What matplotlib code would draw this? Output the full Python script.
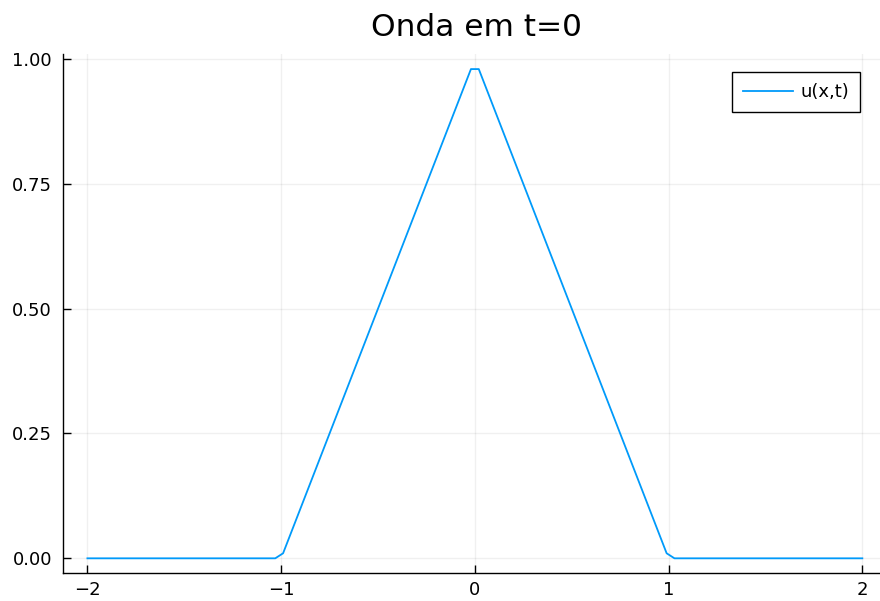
import numpy as np
import matplotlib.pyplot as plt

# vertices of the sampled triangular pulse u(x, 0)
x_pts = [-2.0, -1.0303, -0.9899, -0.0202, 0.0202, 0.9899, 1.0303, 2.0]
u_pts = [0.0, 0.0, 0.0101, 0.9798, 0.9798, 0.0101, 0.0, 0.0]
xticks = [-2, -1, 0, 1, 2]
xtick_labels = ['\u22122', '\u22121', '0', '1', '2']
yticks = [0.0, 0.25, 0.5, 0.75, 1.0]
ytick_labels = ['0.00', '0.25', '0.50', '0.75', '1.00']

W, H = 880, 601
fig = plt.figure(figsize=(W / 100, H / 100), dpi=100)
# axes frame in pixels: left 63, right ~887 (past the edge), top 54, bottom 573
ax = fig.add_axes([63 / W, 1 - 573 / H, (887.5 - 63) / W, (573 - 54.4) / H])

ax.plot(x_pts, u_pts, color='#009AFA', lw=1.3, label='u(x,t)')

ax.set_xlim(-2.126, 2.13)
ax.set_ylim(-0.0294, 1.0092)
ax.set_xticks(xticks)
ax.set_xticklabels(xtick_labels)
ax.set_yticks(yticks)
ax.set_yticklabels(ytick_labels)
ax.tick_params(direction='in', length=6, width=1, labelsize=13, colors='black')
ax.tick_params(axis='y', pad=8)
ax.tick_params(axis='x', pad=6)
ax.grid(True, color='black', alpha=0.06, lw=1)
for side in ['top', 'right']:
    ax.spines[side].set_visible(False)
for side in ['left', 'bottom']:
    ax.spines[side].set_linewidth(1)

fig.text(476 / W, 1 - 27 / H, 'Onda em t=0', ha='center', va='center', fontsize=22.5)

leg = ax.legend(loc='upper right', bbox_to_anchor=(860 / W, 1 - 72 / H),
                bbox_transform=fig.transFigure, fontsize=13, fancybox=False,
                framealpha=1, edgecolor='black', handlelength=2.8,
                handletextpad=0.4, borderpad=0.6, borderaxespad=0)
leg.get_frame().set_linewidth(1)

fig.savefig('out.png', dpi=100)
